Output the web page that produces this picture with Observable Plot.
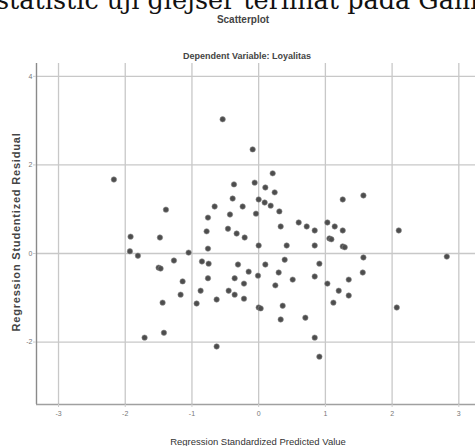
<!DOCTYPE html>
<html>
<head>
<meta charset="utf-8">
<script src="https://cdn.jsdelivr.net/npm/d3@7"></script>
<script src="https://cdn.jsdelivr.net/npm/@observablehq/plot@0.6"></script>
<style>
  html, body { margin: 0; padding: 0; background: #fff; }
  #wrap { position: relative; width: 475px; height: 446px; overflow: hidden; background: #fff; }
  #chart { position: absolute; left: 0; top: 0; }
  .t { position: absolute; white-space: nowrap; color: #333; font-family: "Liberation Sans Narrow", "Liberation Sans", Arial, sans-serif; }
  #doc { left: -4px; top: -15px; font-family: "DejaVu Serif", "Liberation Serif", serif; font-size: 25.5px; color: #111; }
  #title { left: 0; width: 486px; text-align: center; top: 14px; font-size: 10px; font-weight: bold; color: #444; }
  #subtitle { left: 0; width: 494px; text-align: center; top: 51px; font-size: 9px; font-weight: bold; color: #444; }
  #ylab { left: 16px; top: 232px; font-family: "Liberation Sans", Arial, sans-serif; font-size: 11px; letter-spacing: 0.8px; font-weight: bold; color: #444; transform: translate(-50%, -50%) rotate(-90deg); }
  #xlab { left: 258px; top: 441px; font-size: 9.5px; color: #333; transform: translate(-50%, -50%); }
</style>
</head>
<body>
<div id="wrap">
  <div id="chart"></div>
  <div class="t" id="doc">statistic uji glejser terlihat pada Gambar</div>
  <div class="t" id="title">Scatterplot</div>
  <div class="t" id="subtitle">Dependent Variable: Loyalitas</div>
  <div class="t" id="ylab">Regression Studentized Residual</div>
  <div class="t" id="xlab">Regression Standardized Predicted Value</div>
</div>
<script>
// Regression Standardized Predicted Value (x) and Studentized Residual (y)
const predictedValue = [
  -2.17, -0.54, -0.09, -1.92, -1.93, -1.81, -1.48, -1.39, -1.05, -0.66,
  -0.76, -0.78, -0.76, -0.37, -0.39, -0.43, -0.46, -0.33, 0.21, -0.06,
  0.10, 0.24, -0.24, 0.00, 0.09, 0.18, -0.04, 0.31, 1.26, 1.57,
  -0.21, 0.33, 0.60, 0.72, 0.84, 1.03, 1.14, 1.26, 1.06, 0.00,
  0.42, 0.84, 1.26, 2.10, 1.57, 2.82, -1.50, -1.27, -0.85, -0.75,
  -0.31, -1.14, -0.76, -0.36, -1.17, -0.87, -0.45, -0.36, -0.63, -0.93,
  -1.44, -1.42, -1.71, -0.63, -0.15, -0.01, 0.10, 0.39, 0.30, 0.51,
  0.91, 0.84, 1.03, 1.35, 1.56, -0.22, -0.22, 0.25, 0.00, 0.36,
  0.33, 1.20, 1.12, 1.35, 0.70, 0.84, 0.91, 2.07, 1.09, 1.29,
  -1.47, 0.03
];
const studentizedResidual = [
  1.67, 3.03, 2.35, 0.38, 0.05, -0.05, 0.36, 0.99, 0.02, 1.06,
  0.81, 0.50, 0.11, 1.56, 1.24, 0.88, 0.56, 0.45, 1.81, 1.60,
  1.49, 1.38, 1.06, 1.22, 1.15, 1.08, 0.90, 0.95, 1.22, 1.31,
  0.36, 0.61, 0.70, 0.61, 0.52, 0.70, 0.61, 0.52, 0.34, 0.18,
  0.18, 0.18, 0.16, 0.52, -0.09, -0.07, -0.32, -0.16, -0.18, -0.23,
  -0.25, -0.63, -0.56, -0.56, -0.93, -0.84, -0.84, -0.93, -1.04, -1.13,
  -1.11, -1.79, -1.90, -2.10, -0.41, -0.50, -0.25, -0.14, -0.43, -0.59,
  -0.23, -0.52, -0.68, -0.59, -0.43, -0.68, -1.02, -0.72, -1.22, -1.18,
  -1.49, -0.84, -1.11, -0.95, -1.45, -1.90, -2.33, -1.22, 0.32, 0.14,
  -0.34, -1.24
];
const xTicks = [-3, -2, -1, 0, 1, 2, 3];
const yTicks = [-2, 0, 2, 4];
const xDomain = [-3.33, 3.25];
const yDomain = [-3.41, 4.29];

const points = predictedValue.map((x, i) => ({x, y: studentizedResidual[i]}));

const chart = Plot.plot({
  width: 475,
  height: 446,
  marginTop: 63,
  marginBottom: 42,
  marginLeft: 36,
  marginRight: 0,
  style: {background: "transparent", fontFamily: "'Liberation Sans Narrow', 'Liberation Sans', Arial, sans-serif"},
  x: {domain: xDomain},
  y: {domain: yDomain},
  marks: [
    Plot.ruleX(xTicks, {stroke: "#c8c8c8", strokeWidth: 1.3}),
    Plot.ruleY(yTicks, {stroke: "#c8c8c8", strokeWidth: 1.3}),
    Plot.ruleX([xDomain[0]], {stroke: "#8a8a8a", strokeWidth: 1.4}),
    Plot.ruleY([yDomain[0]], {stroke: "#a0a0a0", strokeWidth: 1.6}),
    Plot.axisX({ticks: xTicks, tickSize: 3, tickPadding: 4, fontSize: 7, color: "#777", stroke: "#ccc", label: null, tickFormat: d => String(d)}),
    Plot.axisY({ticks: yTicks, tickSize: 3, tickPadding: 1, fontSize: 7, color: "#777", stroke: "#ccc", label: null, tickFormat: d => String(d)}),
    Plot.dot(points, {x: "x", y: "y", r: 2.7, fill: "#4d4d4d", stroke: "#8a8a8a", strokeWidth: 0.6})
  ]
});
document.getElementById("chart").appendChild(chart);
</script>
</body>
</html>
